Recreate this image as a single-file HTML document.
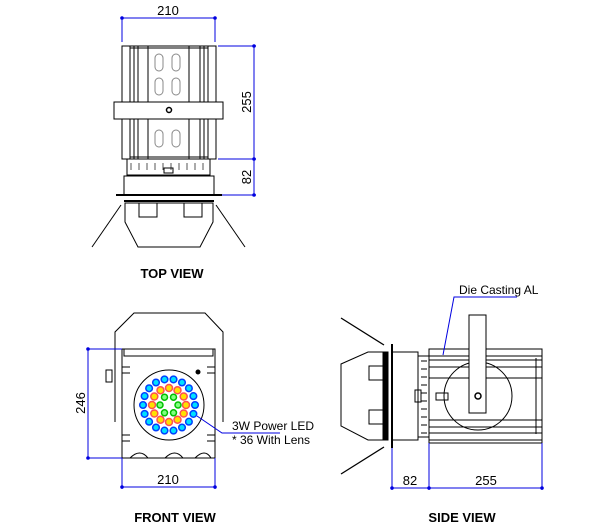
<!DOCTYPE html>
<html><head><style>body{margin:0;background:#fff}svg{display:block}text{font-family:"Liberation Sans",sans-serif}</style></head>
<body>
<svg width="600" height="531" viewBox="0 0 600 531" xmlns="http://www.w3.org/2000/svg">
<g fill="none" stroke="#000" stroke-width="1">
<rect x="122" y="46" width="94" height="113"/>
<line x1="130" y1="46" x2="130" y2="159"/><line x1="134" y1="46" x2="134" y2="159"/><line x1="138" y1="46" x2="138" y2="159"/>
<line x1="148" y1="46" x2="148" y2="159"/><line x1="189" y1="46" x2="189" y2="159"/>
<line x1="200" y1="46" x2="200" y2="159"/><line x1="204" y1="46" x2="204" y2="159"/><line x1="208" y1="46" x2="208" y2="159"/>
<line x1="130" y1="48" x2="208" y2="48"/><line x1="130" y1="157" x2="208" y2="157"/>
<g stroke="#888"><rect x="155" y="54" width="8" height="17" rx="4"/><rect x="172" y="54" width="8" height="17" rx="4"/>
<rect x="155" y="78" width="8" height="17" rx="4"/><rect x="172" y="78" width="8" height="17" rx="4"/>
<rect x="155" y="130" width="8" height="17" rx="4"/><rect x="172" y="130" width="8" height="17" rx="4"/></g>
<rect x="114" y="102" width="109" height="17" fill="#fff"/>
<circle cx="169" cy="110" r="2.5" stroke-width="1.5"/>
<rect x="127" y="159" width="83" height="16"/>
<g stroke="#555"><line x1="131" y1="163" x2="131" y2="170"/><line x1="139" y1="163" x2="139" y2="170"/><line x1="147" y1="163" x2="147" y2="170"/><line x1="155" y1="163" x2="155" y2="170"/><line x1="163" y1="163" x2="163" y2="170"/><line x1="171" y1="163" x2="171" y2="170"/><line x1="179" y1="163" x2="179" y2="170"/><line x1="187" y1="163" x2="187" y2="170"/><line x1="195" y1="163" x2="195" y2="170"/><line x1="203" y1="163" x2="203" y2="170"/></g>
<rect x="164" y="168" width="9" height="5"/>
<rect x="124" y="176" width="90" height="19"/>
<line x1="116" y1="195" x2="222" y2="195" stroke-width="2"/>
<line x1="124" y1="201" x2="214" y2="201" stroke-width="2"/>
<polygon points="125,203 213,203 213,222 200,247 138,247 125,222"/>
<rect x="139" y="203" width="18" height="14"/><rect x="184" y="203" width="18" height="14"/>
<line x1="121" y1="205" x2="92" y2="247"/><line x1="216" y1="205" x2="245" y2="247"/>
<polyline points="115,422 115,332 134,313 205,313 223,332 223,422"/>
<rect x="122" y="349" width="93" height="109" fill="#fff"/>
<rect x="124" y="349" width="89" height="7"/>
<rect x="106" y="370" width="6" height="12"/>
<path d="M122,367h8M122,373h8M122,435h8M122,441h8M215,367h-8M215,373h-8M215,435h-8M215,441h-8"/>
<path d="M130,458q10,-10 18,0M165,458q10,-10 18,0M195,458q10,-10 16,0"/>
<circle cx="169" cy="405" r="35"/>
<circle cx="198" cy="372" r="2" fill="#000"/>
<rect x="429" y="349" width="113" height="94"/>
<path d="M429,356h113M429,360h113M429,367h113M429,378h113M429,420h113M429,427h113M429,433h113M429,440h113"/>
<line x1="536" y1="358" x2="536" y2="434"/>
<circle cx="478" cy="396" r="34"/>
<rect x="469" y="315" width="17" height="98" fill="#fff"/>
<circle cx="478" cy="396" r="3" stroke-width="1.5"/>
<rect x="436" y="393" width="12" height="7"/>
<rect x="418" y="356" width="11" height="81"/>
<path d="M421,361h6M421,369h6M421,377h6M421,385h6M421,393h6M421,401h6M421,409h6M421,417h6M421,425h6M421,433h6"/>
<rect x="415" y="390" width="6" height="12"/>
<rect x="392" y="352" width="26" height="88"/>
<line x1="392" y1="344" x2="392" y2="448" stroke-width="2"/>
<rect x="383" y="352" width="5" height="88" fill="#000"/>
<polygon points="341,364 368,352 383,352 383,440 368,440 341,426"/>
<rect x="369" y="366" width="14" height="14"/><rect x="369" y="410" width="14" height="14"/>
<line x1="341" y1="318" x2="384" y2="345" stroke-width="1.3"/><line x1="384" y1="447" x2="341" y2="474" stroke-width="1.3"/>
</g>
<g stroke-width="1.5">
<g fill="#00e0ff" stroke="#0040ff">
<circle cx="195" cy="405" r="3.3"/><circle cx="193.4" cy="413.9" r="3.3"/><circle cx="188.9" cy="421.7" r="3.3"/><circle cx="182" cy="427.5" r="3.3"/><circle cx="173.5" cy="430.6" r="3.3"/><circle cx="164.5" cy="430.6" r="3.3"/><circle cx="156" cy="427.5" r="3.3"/><circle cx="149.1" cy="421.7" r="3.3"/><circle cx="144.6" cy="413.9" r="3.3"/><circle cx="143" cy="405" r="3.3"/><circle cx="144.6" cy="396.1" r="3.3"/><circle cx="149.1" cy="388.3" r="3.3"/><circle cx="156" cy="382.5" r="3.3"/><circle cx="164.5" cy="379.4" r="3.3"/><circle cx="173.5" cy="379.4" r="3.3"/><circle cx="182" cy="382.5" r="3.3"/><circle cx="188.9" cy="388.3" r="3.3"/><circle cx="193.4" cy="396.1" r="3.3"/>
</g>
<g fill="#ffe000" stroke="#ff5050">
<circle cx="186" cy="405" r="3.5"/><circle cx="183.7" cy="413.5" r="3.5"/><circle cx="177.5" cy="419.7" r="3.5"/><circle cx="169" cy="422" r="3.5"/><circle cx="160.5" cy="419.7" r="3.5"/><circle cx="154.3" cy="413.5" r="3.5"/><circle cx="152" cy="405" r="3.5"/><circle cx="154.3" cy="396.5" r="3.5"/><circle cx="160.5" cy="390.3" r="3.5"/><circle cx="169" cy="388" r="3.5"/><circle cx="177.5" cy="390.3" r="3.5"/><circle cx="183.7" cy="396.5" r="3.5"/>
</g>
<g fill="#80ff80" stroke="#00c000">
<circle cx="178" cy="405" r="3"/><circle cx="173.5" cy="412.8" r="3"/><circle cx="164.5" cy="412.8" r="3"/><circle cx="160" cy="405" r="3"/><circle cx="164.5" cy="397.2" r="3"/><circle cx="173.5" cy="397.2" r="3"/>
</g>
</g>
<g stroke="#0000e0" fill="none" stroke-width="1">
<path d="M122,18H215M122,18V42M215,18V42"/>
<path d="M254,46V195M218,46H256M218,159H256M222,195H256"/>
<path d="M88,349V458M88,349H122M88,458H122"/>
<path d="M122,487H215M122,458V489M215,458V489"/>
<path d="M197,416L222,433H280"/>
<path d="M392,488H542M392,448V490M429,443V490M542,443V490"/>
<path d="M517,297H454L443,355"/>
</g>
<g fill="#0000e0">
<circle cx="122" cy="18" r="1.8"/><circle cx="215" cy="18" r="1.8"/>
<circle cx="254" cy="46" r="1.8"/><circle cx="254" cy="159" r="1.8"/><circle cx="254" cy="195" r="1.8"/>
<circle cx="88" cy="349" r="1.8"/><circle cx="88" cy="458" r="1.8"/>
<circle cx="122" cy="487" r="1.8"/><circle cx="215" cy="487" r="1.8"/>
<circle cx="392" cy="488" r="1.8"/><circle cx="429" cy="488" r="1.8"/><circle cx="542" cy="488" r="1.8"/>
</g>
<g font-size="13" fill="#000">
<text x="168" y="15" text-anchor="middle">210</text>
<text transform="translate(251,102) rotate(-90)" text-anchor="middle">255</text>
<text transform="translate(251,177) rotate(-90)" text-anchor="middle">82</text>
<text transform="translate(85,403) rotate(-90)" text-anchor="middle">246</text>
<text x="168" y="484" text-anchor="middle">210</text>
<text x="410" y="485" text-anchor="middle">82</text>
<text x="486" y="485" text-anchor="middle">255</text>
<text x="232" y="430" font-size="12">3W Power LED</text>
<text x="232" y="444" font-size="12">* 36 With Lens</text>
<text x="459" y="294" font-size="12">Die Casting AL</text>
<text x="172" y="278" text-anchor="middle" font-size="13" font-weight="bold">TOP  VIEW</text>
<text x="175" y="522" text-anchor="middle" font-size="13" font-weight="bold">FRONT  VIEW</text>
<text x="462" y="522" text-anchor="middle" font-size="13" font-weight="bold">SIDE  VIEW</text>
</g>
</svg>
</body></html>
